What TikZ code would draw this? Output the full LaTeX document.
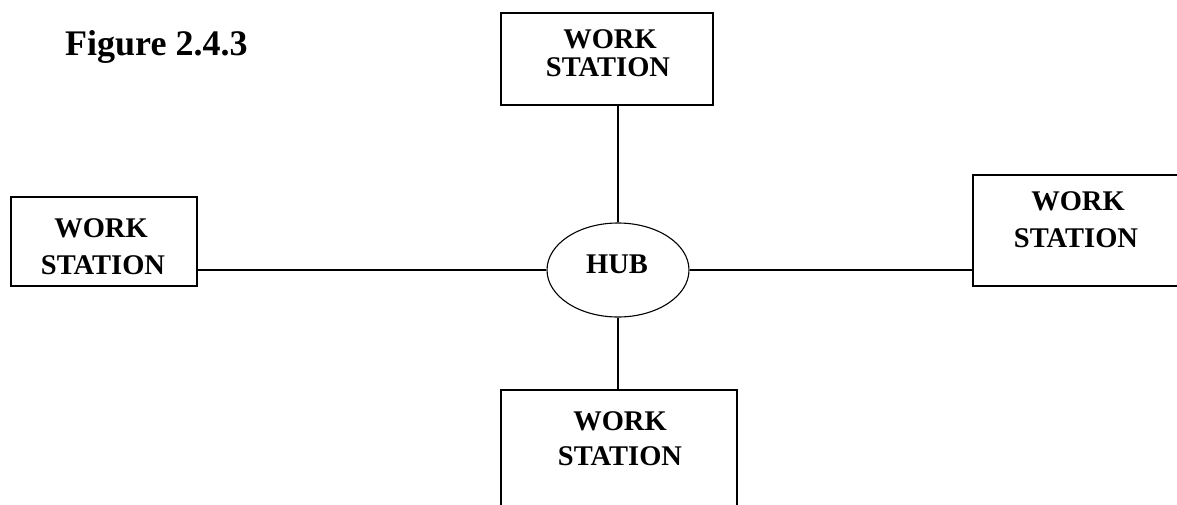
\documentclass[tikz,border=0pt]{standalone}
\usepackage{fontspec}
\setmainfont{Liberation Serif}
\usetikzlibrary{shapes.geometric}
\begin{document}
\begin{tikzpicture}[x=1pt,y=-1pt,
  box/.style={draw,line width=1.1pt,rectangle,inner sep=0pt},
  hubshape/.style={draw,line width=1.1pt,ellipse,inner sep=0pt,minimum width=142pt,minimum height=94pt},
  wtext/.style={anchor=base,inner sep=0pt,font=\bfseries\fontsize{28.5}{28.5}\selectfont},
  link/.style={line width=1.1pt}]
\useasboundingbox (0,0) rectangle (1177,504);
\clip (0,0) rectangle (1177,504);
\fill[white] (0,0) rectangle (1177,504);
% title
\node[anchor=base west,inner sep=0pt,font=\bfseries\fontsize{36}{36}\selectfont] (title) at (65,55) {Figure 2.4.3};
% hub
\node[hubshape] (hub) at (618,270) {};
\node[wtext] (hubtext) at (617,273) {HUB};
% boxes
\node[box,minimum width=212pt,minimum height=92pt] (top) at (607,59) {};
\node[box,minimum width=186pt,minimum height=89pt] (left) at (104,241.5) {};
\node[box,minimum width=210pt,minimum height=111pt] (right) at (1078,230.5) {};
\node[box,minimum width=236pt,minimum height=130pt] (bottom) at (619,455) {};
% texts
\node[wtext] (topw) at (610,48) {WORK};
\node[wtext] (tops) at (608,76) {STATION};
\node[wtext] (leftw) at (101,237) {WORK};
\node[wtext] (lefts) at (103,274) {STATION};
\node[wtext] (rightw) at (1078,210) {WORK};
\node[wtext] (rights) at (1076,247) {STATION};
\node[wtext] (bottomw) at (620,430) {WORK};
\node[wtext] (bottoms) at (620,465) {STATION};
% connectors
\draw[link] (hub.north) -- (hub.north |- top.south);
\draw[link] (hub.west) -- (hub.west -| left.east);
\draw[link] (hub.east) -- (hub.east -| right.west);
\draw[link] (hub.south) -- (hub.south |- bottom.north);
\end{tikzpicture}
\end{document}
